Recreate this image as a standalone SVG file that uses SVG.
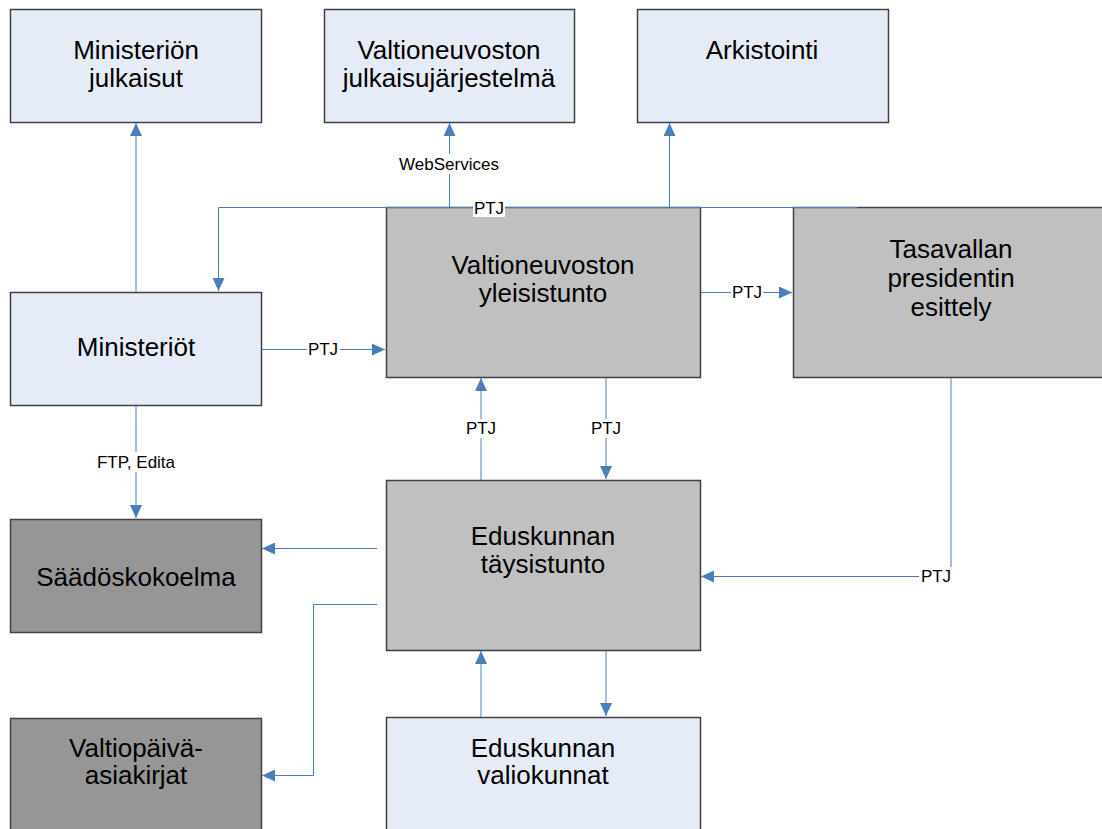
<svg xmlns="http://www.w3.org/2000/svg" width="1102" height="829" viewBox="0 0 1102 829">
<style>
.box{stroke:#404040;stroke-width:1.5}
.light{fill:#e6ecf7}
.mid{fill:#c0c0c0}
.dark{fill:#969696}
.t{font-family:"Liberation Sans",Arial,sans-serif;font-size:26px;fill:#000;text-anchor:middle}
.l{font-family:"Liberation Sans",Arial,sans-serif;font-size:17px;fill:#000;text-anchor:middle}
.c{fill:none;stroke:#4a7ebb;stroke-width:1}
.c2{fill:none;stroke:#4a7ebb;stroke-width:1.3;stroke-opacity:0.75}
.bg{fill:#fff}
</style>
<defs>
<marker id="ah" markerUnits="userSpaceOnUse" markerWidth="14" markerHeight="12" refX="13" refY="6" orient="auto">
<path d="M0,0 L13,6 L0,12 z" fill="#4a7ebb"/>
</marker>
</defs>
<rect width="1102" height="829" fill="#fff"/>
<g id="ministerion-julkaisut">
<rect class="box light" x="10.5" y="9.5" width="251" height="113"/>
<text class="t" x="136" y="59">Ministeriön</text>
<text class="t" x="136" y="87">julkaisut</text>
</g>
<g id="vn-julkaisujarjestelma">
<rect class="box light" x="324.5" y="9.5" width="250" height="113"/>
<text class="t" x="449" y="59">Valtioneuvoston</text>
<text class="t" x="449" y="87">julkaisujärjestelmä</text>
</g>
<g id="arkistointi">
<rect class="box light" x="637.5" y="9.5" width="251" height="113"/>
<text class="t" x="762" y="59">Arkistointi</text>
</g>
<g id="ministeriot">
<rect class="box light" x="10.5" y="292.5" width="251" height="113"/>
<text class="t" x="136" y="356">Ministeriöt</text>
</g>
<g id="vn-yleisistunto">
<rect class="box mid" x="386.5" y="207.5" width="314" height="170"/>
<text class="t" x="543" y="274">Valtioneuvoston</text>
<text class="t" x="543" y="302">yleisistunto</text>
</g>
<g id="tp-esittely">
<rect class="box mid" x="793.5" y="207.5" width="314" height="170"/>
<text class="t" x="951" y="258">Tasavallan</text>
<text class="t" x="951" y="287">presidentin</text>
<text class="t" x="951" y="316">esittely</text>
</g>
<g id="saadoskokoelma">
<rect class="box dark" x="10.5" y="519.5" width="251" height="113"/>
<text class="t" x="136" y="586">Säädöskokoelma</text>
</g>
<g id="eduskunnan-taysistunto">
<rect class="box mid" x="386.5" y="480.5" width="314" height="170"/>
<text class="t" x="543" y="545">Eduskunnan</text>
<text class="t" x="543" y="573">täysistunto</text>
</g>
<g id="valtiopaiva-asiakirjat">
<rect class="box dark" x="10.5" y="718.5" width="251" height="130"/>
<text class="t" x="136" y="757">Valtiopäivä-</text>
<text class="t" x="136" y="784">asiakirjat</text>
</g>
<g id="eduskunnan-valiokunnat">
<rect class="box light" x="386.5" y="717.5" width="314" height="130"/>
<text class="t" x="543" y="757">Eduskunnan</text>
<text class="t" x="543" y="784">valiokunnat</text>
</g>
<g id="connectors">
<path class="c2" d="M136,292 V123" marker-end="url(#ah)"/>
<path class="c2" d="M136,406 V518" marker-end="url(#ah)"/>
<rect class="bg" x="92" y="452" width="88" height="20"/>
<text class="l" x="136" y="468">FTP, Edita</text>
<path class="c" d="M857,207.5 H218.5 V291" marker-end="url(#ah)"/>
<path class="c" d="M449.5,207 V123" marker-end="url(#ah)"/>
<rect class="bg" x="396" y="154" width="106" height="20"/>
<text class="l" x="449" y="170">WebServices</text>
<path class="c" d="M669.5,207 V123" marker-end="url(#ah)"/>
<rect class="bg" x="473" y="198" width="32" height="19"/>
<text class="l" x="489" y="214">PTJ</text>
<path class="c" d="M262,349.5 H385" marker-end="url(#ah)"/>
<rect class="bg" x="307" y="340" width="33" height="19"/>
<text class="l" x="323" y="355">PTJ</text>
<path class="c" d="M701,292.5 H792" marker-end="url(#ah)"/>
<rect class="bg" x="731" y="283" width="32" height="19"/>
<text class="l" x="747" y="298">PTJ</text>
<path class="c" d="M481,480 V378" marker-end="url(#ah)"/>
<rect class="bg" x="465" y="419" width="33" height="19"/>
<text class="l" x="481" y="434">PTJ</text>
<path class="c" d="M606,378 V479" marker-end="url(#ah)"/>
<rect class="bg" x="590" y="419" width="33" height="19"/>
<text class="l" x="606" y="434">PTJ</text>
<path class="c" d="M377,548.5 H262" marker-end="url(#ah)"/>
<path class="c" d="M377,604.5 H313.5 V775.5 H262" marker-end="url(#ah)"/>
<path class="c" d="M951,378 V576.5 H701" marker-end="url(#ah)"/>
<rect class="bg" x="919" y="567" width="33" height="19"/>
<text class="l" x="936" y="582">PTJ</text>
<path class="c" d="M481,717 V651" marker-end="url(#ah)"/>
<path class="c" d="M606,651 V716" marker-end="url(#ah)"/>
</g>
</svg>
